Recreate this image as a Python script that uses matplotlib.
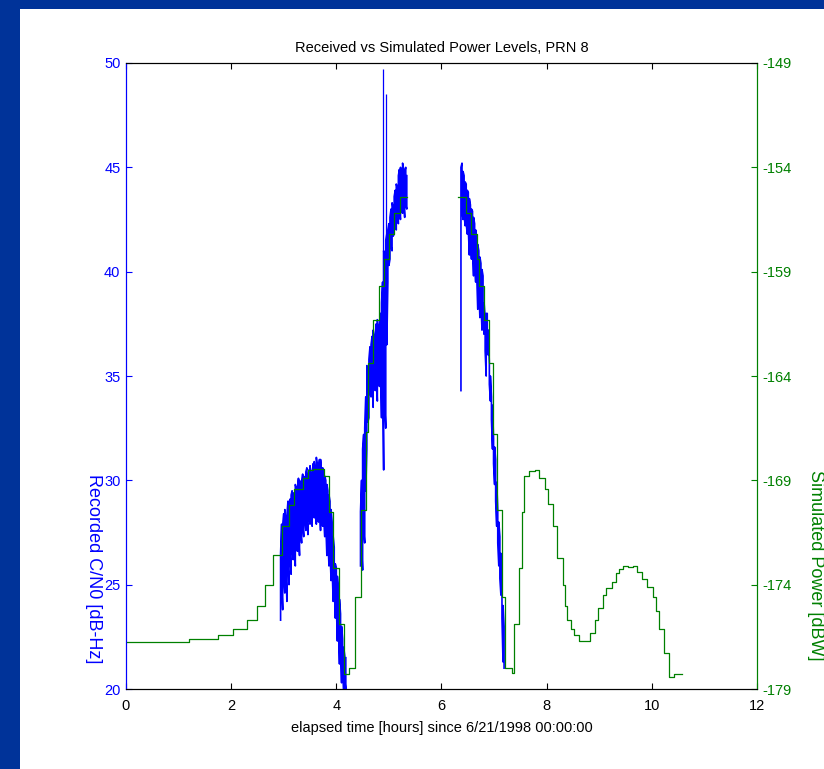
"""
Received vs Simulated Power Levels, PRN 8 -- plotyy style chart
"""

import matplotlib.pyplot as plt
import numpy as np
from matplotlib.patches import Rectangle

# %% fonts
plt.rcParams.update({
    "font.family": ["Liberation Sans", "DejaVu Sans"],
    "font.size": 10.5,
    "axes.unicode_minus": False,
})

# %% data
# simulated power (right axis, dBW), step starts in hours
sim_t = [0.00, 1.20, 1.75, 2.03, 2.30, 2.49, 2.65, 2.80, 2.97, 3.10,
         3.20, 3.36, 3.46, 3.55, 3.77, 3.86, 3.94, 4.05, 4.15, 4.25,
         4.36, 4.46, 4.56, 4.61, 4.70, 4.81, 4.91, 5.01, 5.10, 5.21,
         5.35, 6.31, 6.47, 6.56, 6.67, 6.72, 6.81, 6.91, 6.97, 7.05,
         7.16, 7.21, 7.34, 7.37, 7.47, 7.54, 7.57, 7.67, 7.78, 7.86,
         7.96, 8.03, 8.12, 8.20, 8.31, 8.35, 8.38, 8.46, 8.52, 8.62,
         8.68, 8.82, 8.92, 8.98, 9.08, 9.13, 9.24, 9.32, 9.38, 9.46,
         9.55, 9.64, 9.72, 9.82, 9.90, 10.02, 10.08, 10.14, 10.24, 10.33,
         10.42, 10.57]
sim_dbw = [-176.75, -176.6, -176.4, -176.1, -175.7, -175.0, -174.0, -172.6, -171.2, -170.2,
           -169.4, -168.9, -168.5, -168.45, -168.8, -170.5, -173.2, -175.9, -178.3, -178.0,
           -174.6, -170.4, -166.7, -163.4, -161.3, -159.7, -158.4, -157.2, -156.2, -155.4,
           np.nan, -155.4, -156.2, -157.2, -158.4, -159.7, -161.3, -163.4, -166.8, -170.4,
           -174.6, -178.0, -178.25, -175.9, -173.2, -170.5, -168.8, -168.55, -168.5, -168.9,
           -169.4, -170.15, -171.2, -172.7, -174.0, -175.0, -175.7, -176.1, -176.4, -176.7,
           -176.7, -176.3, -175.7, -175.1, -174.5, -174.15, -173.85, -173.45, -173.25, -173.1,
           -173.15, -173.1, -173.4, -173.75, -174.1, -174.6, -175.25, -176.1, -177.25, -178.4,
           -178.3, -178.3]

# recorded C/N0 (left axis, dB-Hz): low / high of the noisy trace
rec_t = [2.94, 2.96, 2.98, 3.00, 3.02, 3.04, 3.06, 3.08, 3.10, 3.12,
         3.14, 3.16, 3.18, 3.20, 3.22, 3.24, 3.26, 3.28, 3.30, 3.32,
         3.34, 3.36, 3.38, 3.40, 3.42, 3.44, 3.46, 3.48, 3.50, 3.52,
         3.54, 3.56, 3.58, 3.60, 3.62, 3.64, 3.66, 3.68, 3.70, 3.72,
         3.74, 3.76, 3.78, 3.80, 3.82, 3.84, 3.86, 3.88, 3.90, 3.92,
         3.94, 3.96, 3.98, 4.00, 4.02, 4.04, 4.06, 4.08, 4.10, 4.12,
         4.14, 4.16, 4.18,
         4.30,
         4.46, 4.48, 4.50, 4.52, 4.54, 4.56, 4.58, 4.60, 4.62, 4.64,
         4.66, 4.68, 4.70, 4.72, 4.74, 4.76, 4.78, 4.80, 4.82, 4.84,
         4.86, 4.88, 4.90, 4.92, 4.94, 4.96, 4.98, 5.00, 5.02, 5.04,
         5.06, 5.08, 5.10, 5.12, 5.14, 5.16, 5.18, 5.20, 5.22, 5.24,
         5.26, 5.28, 5.30, 5.32, 5.34,
         5.80,
         6.37, 6.39, 6.41, 6.43, 6.45, 6.47, 6.49, 6.51, 6.53, 6.55,
         6.57, 6.59, 6.61, 6.63, 6.65, 6.67, 6.69, 6.71, 6.73, 6.75,
         6.77, 6.79, 6.81, 6.83, 6.85, 6.87, 6.89, 6.91, 6.93, 6.95,
         6.97, 6.99, 7.01, 7.03, 7.05, 7.07, 7.09, 7.11, 7.13, 7.15,
         7.17, 7.19]
rec_lo = [23.3, 25.0, 23.8, 25.4, 24.6, 25.9, 24.2, 26.0, 25.0, 26.4,
          25.5, 26.8, 26.2, 27.1, 25.9, 27.0, 26.6, 27.5, 26.4, 27.6,
          27.0, 27.9, 27.3, 28.2, 27.6, 28.4, 27.4, 28.3, 27.9, 28.6,
          27.8, 28.8, 28.2, 29.0, 27.9, 28.7, 28.0, 28.9, 27.6, 28.6,
          27.8, 28.3, 27.3, 27.9, 26.4, 27.2, 25.9, 26.6, 25.2, 25.8,
          24.2, 25.0, 23.4, 24.0, 22.3, 23.2, 21.2, 22.0, 20.3, 21.1,
          19.9, 20.4, 20.0,
          np.nan,
          25.9, 26.8, 25.7, 27.6, 27.0, 29.5, 31.5, 32.8, 33.0, 34.2,
          34.0, 34.8, 33.5, 34.9, 34.3, 35.1, 33.8, 34.9, 34.5, 35.4,
          33.0, 34.6, 30.5, 33.6, 32.5, 36.5, 39.5, 40.3, 40.6, 41.2,
          41.0, 41.7, 41.8, 42.2, 42.0, 42.6, 42.3, 42.9, 42.5, 43.0,
          42.8, 43.3, 42.6, 43.2, 43.0,
          np.nan,
          34.3, 42.9, 42.5, 42.7, 42.2, 42.3, 41.8, 42.0, 40.8, 41.6,
          40.6, 41.1, 39.8, 40.5, 39.5, 39.9, 38.2, 39.2, 37.8, 38.6,
          37.2, 38.0, 37.0, 36.2, 35.0, 36.5, 36.0, 34.6, 33.8, 32.9,
          31.5, 30.8, 29.8, 29.0, 27.8, 27.0, 25.9, 25.3, 24.5, 23.4,
          21.3, 21.0]
rec_hi = [26.5, 27.9, 27.8, 28.4, 28.6, 28.0, 28.3, 29.0, 28.9, 29.1,
          29.3, 29.5, 29.4, 29.2, 29.8, 29.6, 29.6, 30.1, 30.0, 29.8,
          29.9, 30.3, 30.2, 30.0, 30.4, 30.6, 30.1, 30.5, 30.7, 30.2,
          30.3, 30.8, 30.9, 30.4, 31.1, 30.7, 30.5, 31.0, 31.0, 30.4,
          30.6, 30.5, 30.2, 30.0, 29.8, 29.5, 29.3, 29.0, 28.6, 28.0,
          27.3, 26.8, 26.0, 25.8, 25.4, 24.8, 24.3, 23.6, 23.0, 22.4,
          22.0, 21.6, 21.5,
          np.nan,
          28.5, 30.0, 31.5, 32.2, 32.5, 34.0, 35.5, 35.2, 35.8, 36.4,
          36.5, 36.9, 37.2, 36.7, 37.0, 37.5, 37.7, 37.2, 37.3, 38.0,
          38.5, 39.5, 41.0, 40.7, 41.5, 41.8, 42.0, 42.3, 42.6, 43.0,
          43.3, 43.1, 43.6, 43.9, 44.2, 44.0, 44.6, 44.9, 45.0, 44.7,
          45.2, 44.9, 44.8, 45.0, 44.6,
          np.nan,
          45.0, 45.2, 44.8, 44.6, 44.3, 44.2, 43.9, 43.8, 43.5, 43.2,
          43.0, 42.9, 42.6, 42.3, 42.0, 41.5, 41.3, 41.0, 40.7, 40.4,
          40.1, 39.8, 38.5, 37.8, 38.0, 38.0, 37.2, 35.6, 35.0, 34.0,
          33.6, 32.0, 31.6, 31.0, 29.9, 28.6, 28.0, 27.3, 26.5, 25.2,
          24.0, 23.0]

# single tall spikes in the recorded trace
spike_t = [4.89, 4.945]
spike_top = [49.7, 48.5]
spike_base = [37.5, 40.0]

# %% figure with slide-style border
fig = plt.figure(figsize=(8.24, 7.69), dpi=100, facecolor='#003399')
fig.add_artist(Rectangle((20 / 824, 0), 1 - 20 / 824, 1 - 9 / 769,
                         transform=fig.transFigure, facecolor='white',
                         edgecolor='none', zorder=-1))

ax = fig.add_axes([0.1529, 0.1040, 0.7658, 0.8141])
ax2 = ax.twinx()

# recorded trace drawn as dense vertical strokes between low and high readings
pairs = np.column_stack([rec_lo, rec_hi])
pairs[1::2] = pairs[1::2, ::-1]
ax.plot(np.repeat(rec_t, 2), pairs.ravel(), color='#0000ff', lw=1.2)
ax.vlines(spike_t, spike_base, spike_top, color='#0000ff', lw=0.9)

# simulated power as a step line
ax2.plot(sim_t, sim_dbw, color='#008000', lw=0.9, drawstyle='steps-post')

# %% axes styling
ax.set_xlim(0, 12)
ax.set_ylim(20, 50)
ax2.set_ylim(-179, -149)
ax.set_xticks(range(0, 13, 2))
ax.set_yticks(range(20, 51, 5))
ax2.set_yticks(range(-179, -148, 5))

ax.tick_params(axis='x', direction='in', top=True, length=4, pad=7, colors='black')
ax.tick_params(axis='y', direction='in', length=4, pad=4, colors='#0000ff')
ax2.tick_params(axis='y', direction='in', length=4, pad=4, colors='#008000')

for a in (ax, ax2):
    a.spines['left'].set_color('#0000ff')
    a.spines['right'].set_color('#008000')

ax.set_title('Received vs Simulated Power Levels, PRN 8', pad=8, fontsize=10.5)
ax.set_xlabel('elapsed time [hours] since 6/21/1998 00:00:00', labelpad=6)
ax.set_ylabel('Recorded C/N0 [dB-Hz]', color='#0000ff', rotation=-90,
              va='center', ha='center', fontsize=13)
ax.yaxis.set_label_coords(-0.052, 0.193)
ax2.set_ylabel('Simulated Power [dBW]', color='#008000', rotation=-90,
               va='center', ha='center', fontsize=13)
ax2.yaxis.set_label_coords(1.092, 0.198)

plt.savefig('out.png', dpi=100, facecolor=fig.get_facecolor())
